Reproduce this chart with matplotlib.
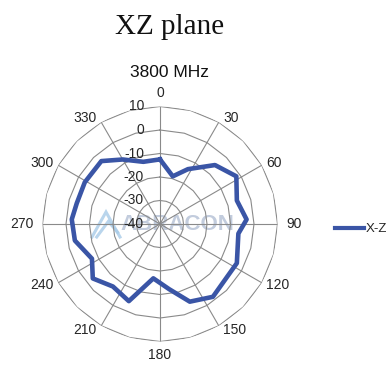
import numpy as np
import matplotlib
matplotlib.use('Agg')
import matplotlib.pyplot as plt
from matplotlib.lines import Line2D

# ---- data ----
angles_deg = [0, 15, 27, 43, 58, 73, 87, 97, 117, 144, 159, 172, 187, 202,
              217, 231, 243, 259, 273, 284, 299, 317, 330, 345]
gain_db = [-12.5, -19.0, -13.8, -5.7, -1.7, -5.8, -3.1, -6.4, -3.3, -1.7,
           -4.6, -12.0, -16.7, -4.6, -6.7, -3.2, -7.5, -3.1, -2.4, -3.5,
           -3.4, -3.4, -8.3, -12.6]
ring_levels = [10, 0, -10, -20, -30, -40]
angle_labels = [0, 30, 60, 90, 120, 150, 180, 210, 240, 270, 300, 330]
series_name = 'X-Z'
title_text = 'XZ plane'
subtitle_text = '3800 MHz'

W, H, DPI = 387, 365, 100
fig = plt.figure(figsize=(W / DPI, H / DPI), dpi=DPI)
fig.patch.set_facecolor('white')

cx, cy, R = 160.0, 224.0, 117.5
ax = fig.add_axes([(cx - R) / W, (H - cy - R) / H, 2 * R / W, 2 * R / H],
                  projection='polar')
ax.set_theta_zero_location('N')
ax.set_theta_direction(-1)
ax.set_ylim(min(ring_levels), max(ring_levels))
ax.grid(False)
ax.spines['polar'].set_visible(False)
ax.set_xticks([])
ax.set_yticks([])
ax.patch.set_alpha(0)

grid_color = '#8a8a8a'
# polygonal rings (24-gon)
gt = np.deg2rad(np.arange(0, 361, 15))
for lv in ring_levels[:-1]:
    ax.plot(gt, np.full_like(gt, lv, dtype=float), color=grid_color, lw=0.8,
            zorder=1)
# spokes
for a in angle_labels:
    ax.plot([np.deg2rad(a)] * 2, [min(ring_levels), max(ring_levels)],
            color=grid_color, lw=0.8, zorder=1)

# watermark
ax.text(0.575, 0.5, 'ABRACON', transform=ax.transAxes, ha='center',
        va='center', fontsize=16, fontweight='bold', color='#aebbd2',
        alpha=0.75, zorder=0.5, family='Liberation Sans')
lx0, ly0 = (92 - (cx - R)) / (2 * R), 1 - (237 - (cy - R)) / (2 * R)
lx1, ly1 = (120 - (cx - R)) / (2 * R), 1 - (212 - (cy - R)) / (2 * R)
mx = (lx0 + lx1) / 2
for xs, ys in [([lx0, mx, lx1], [ly0, ly1, ly0]),
               ([lx0 + 0.02, mx + 0.01, lx1 - 0.01], [ly0, ly1 - 0.04, ly0 + 0.02])]:
    ax.plot(xs, ys, transform=ax.transAxes, color='#a8cbe8', lw=2.2,
            alpha=0.8, zorder=0.5, solid_joinstyle='miter')

# data
th = np.deg2rad(angles_deg + angles_deg[:1])
rr = gain_db + gain_db[:1]
line, = ax.plot(th, rr, color='#3a55a6', lw=3.3, solid_joinstyle='round',
                zorder=3, label=series_name)

fs = 10
px2pt = 72.0 / DPI
# ring labels
for lv in ring_levels:
    ax.annotate(str(lv), xy=(0, lv), xytext=(-16 * px2pt, 0),
                textcoords='offset points', ha='right', va='center',
                fontsize=fs, color='#262626', family='Liberation Sans',
                zorder=4)
# angle labels
for a in angle_labels:
    s = np.sin(np.deg2rad(a))
    c = np.cos(np.deg2rad(a))
    if abs(s) < 1e-6:
        dx, dy, ha = 0, 13.5 * np.sign(c), 'center'
    elif abs(c) < 1e-6:
        dx, dy, ha = 8.5 * np.sign(s), 0, ('left' if s > 0 else 'right')
    else:
        dx, dy, ha = 4.5 * np.sign(s), 5 * c, ('left' if s > 0 else 'right')
    ax.annotate(str(a), xy=(np.deg2rad(a), max(ring_levels)),
                xytext=(dx * px2pt, dy * px2pt), textcoords='offset points',
                ha=ha, va='center', fontsize=fs, color='#262626',
                family='Liberation Sans', annotation_clip=False)

fig.text(170 / W, 1 - 34 / H, title_text, ha='center', va='baseline',
         fontsize=21, family='Liberation Serif', color='#111111')
fig.text(169.3 / W, 1 - 72.7 / H, subtitle_text, ha='center', va='center',
         fontsize=12.5, family='Liberation Sans', color='#111111')

leg = fig.legend(handles=[Line2D([], [], color='#3a55a6', lw=3.0)],
                 labels=[series_name], loc='center left',
                 bbox_to_anchor=(335 / W, 1 - 229 / H),
                 bbox_transform=fig.transFigure, frameon=False,
                 handlelength=2.2, handletextpad=0.15, borderpad=0,
                 borderaxespad=0, prop={'family': 'Liberation Sans', 'size': 9.5})
for t in leg.get_texts():
    t.set_color('#262626')

fig.savefig('out.png', dpi=DPI, facecolor='white')
